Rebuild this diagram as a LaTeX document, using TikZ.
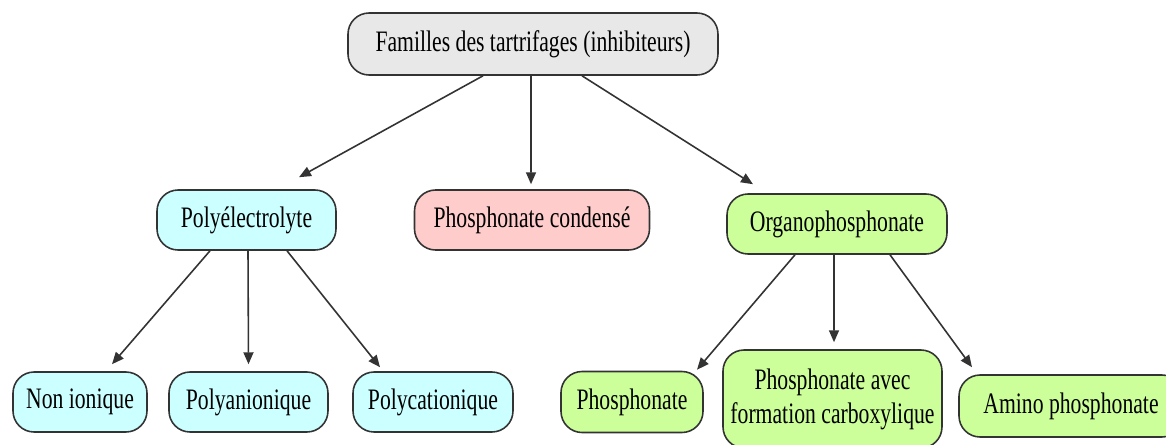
\documentclass[tikz,border=0pt]{standalone}
\usepackage{fontspec}
\setmainfont{Liberation Serif}[FakeStretch=0.73]
\usetikzlibrary{arrows.meta}
\definecolor{cbord}{HTML}{333333}
\definecolor{cgris}{HTML}{E8E8E8}
\definecolor{ccyan}{HTML}{CCFFFF}
\definecolor{crose}{HTML}{FFCCCC}
\definecolor{cvert}{HTML}{CCFF99}
\tikzset{
  boite/.style={draw=cbord,line width=0.9pt,rounded corners=12pt,align=center,
                inner sep=2pt,font=\fontsize{16.9}{19.3}\selectfont,
                minimum height=1.2cm},
  boiteg/.style={boite,fill=cgris},
  boitec/.style={boite,fill=ccyan},
  boiter/.style={boite,fill=crose},
  boitev/.style={boite,fill=cvert},
  fleche/.style={-{Triangle[length=6.8pt,width=5.7pt]},draw=cbord,line width=0.9pt},
}
\begin{document}
\begin{tikzpicture}[x=1cm,y=1cm]
\useasboundingbox (0,0) rectangle (23.32,-8.88);

\node[boiteg,minimum width=7.4cm,minimum height=1.24cm] (racine) at (10.66,-0.88)
  {Familles des tartrifages (inhibiteurs)};

\node[boitec,minimum width=3.58cm] (poly) at (4.93,-4.40) {Polyélectrolyte};
\node[boiter,minimum width=4.70cm] (cond) at (10.64,-4.40) {Phosphonate condensé};
\node[boitev,minimum width=4.40cm] (organo) at (16.74,-4.48) {Organophosphonate};

\node[boitec,minimum width=2.68cm] (nonion) at (1.60,-8.04) {Non ionique};
\node[boitec,minimum width=3.18cm] (polyan) at (4.97,-8.04) {Polyanionique};
\node[boitec,minimum width=3.20cm] (polycat) at (8.66,-8.04) {Polycationique};

\node[boitev,minimum width=2.84cm,minimum height=1.22cm] (phos) at (12.64,-8.04) {Phosphonate};
\node[boitev,minimum width=4.38cm,minimum height=1.96cm] (avec) at (16.65,-7.98)
  {Phosphonate avec\\formation carboxylique};
\node[boitev,minimum width=4.48cm,minimum height=1.24cm] (amino) at (21.42,-8.12) {Amino phosphonate};

\draw[fleche] ([xshift=-1.0cm]racine.south) -- ([xshift=1.05cm,yshift=0.24cm]poly.north);
\draw[fleche] ([xshift=-0.04cm]racine.south) -- ([xshift=-0.02cm,yshift=0.10cm]cond.north);
\draw[fleche] ([xshift=0.98cm]racine.south) -- ([xshift=-1.68cm,yshift=0.18cm]organo.north);

\draw[fleche] ([xshift=-0.73cm]poly.south) -- ([xshift=0.64cm,yshift=0.14cm]nonion.north);
\draw[fleche] ([xshift=0.03cm]poly.south) -- ([yshift=0.14cm]polyan.north);
\draw[fleche] ([xshift=0.81cm]poly.south) -- ([xshift=-1.06cm,yshift=0.08cm]polycat.north);

\draw[fleche] ([xshift=-0.84cm]organo.south) -- ([xshift=1.30cm,yshift=0.02cm]phos.north);
\draw[fleche] ([xshift=-0.06cm]organo.south) -- ([xshift=0.03cm,yshift=0.14cm]avec.north);
\draw[fleche] ([xshift=1.06cm]organo.south) -- ([xshift=-1.98cm,yshift=0.14cm]amino.north);

\end{tikzpicture}
\end{document}
